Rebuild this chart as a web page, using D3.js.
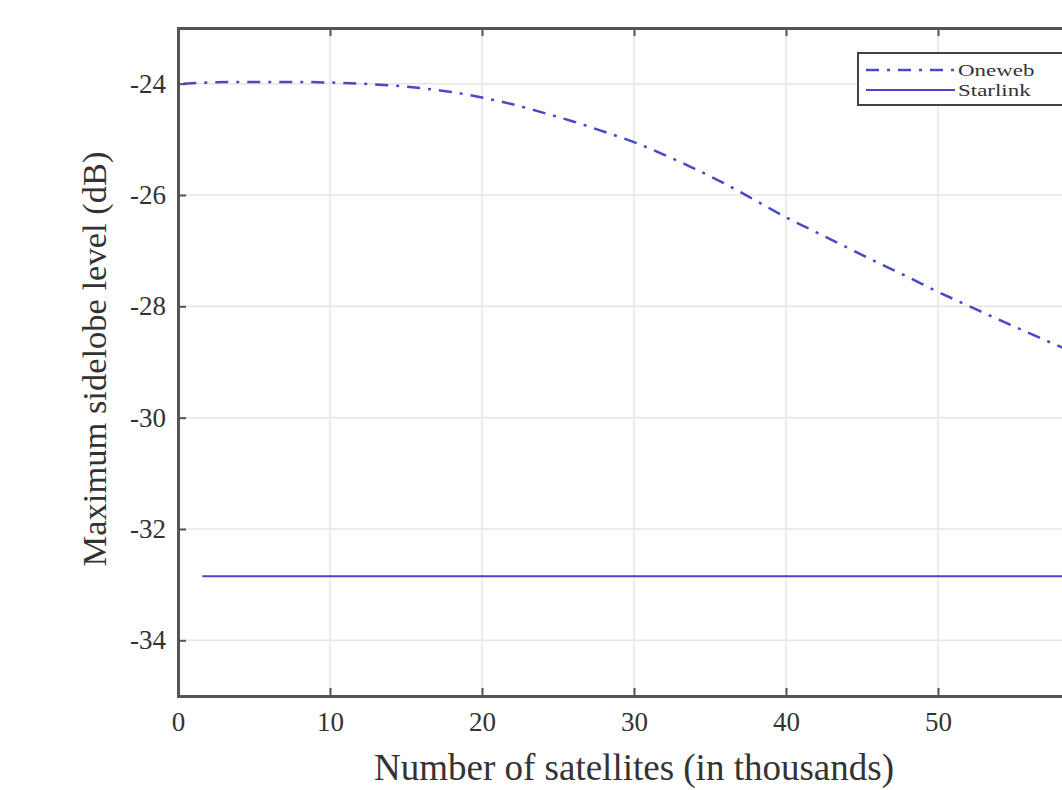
<!DOCTYPE html>
<html>
<head>
<meta charset="utf-8">
<script src="https://cdn.jsdelivr.net/npm/d3@7"></script>
<style>
  html, body { margin: 0; padding: 0; background: #fff; }
  svg { display: block; }
  text { font-family: "Liberation Serif", "Times New Roman", serif; fill: #333; }
</style>
</head>
<body>
<div id="chart"></div>
<script>
// ---- data ----
const xTicks = [0, 10, 20, 30, 40, 50, 60];
const xTickLabels = ["0", "10", "20", "30", "40", "50", ""];
const yTicks = [-34, -32, -30, -28, -26, -24];
const yTickLabels = ["-34", "-32", "-30", "-28", "-26", "-24"];
const onewebX = [0.35, 2, 4, 6, 8, 10, 12, 14, 16, 18, 20, 22, 24, 26, 28, 30, 32, 34, 36, 38, 40, 42, 44, 46, 48, 50, 52, 54, 56, 58, 60];
const onewebY = [-24.0, -23.98, -23.97, -23.97, -23.97, -23.98, -24.0, -24.03, -24.08, -24.15, -24.25, -24.37, -24.52, -24.68, -24.86, -25.05, -25.28, -25.53, -25.8, -26.1, -26.4, -26.67, -26.94, -27.21, -27.47, -27.74, -27.99, -28.24, -28.48, -28.72, -28.95];
const starlinkX = [1.6, 60];
const starlinkY = [-32.85, -32.85];
const seriesNames = ["Oneweb", "Starlink"];
const xTitle = "Number of satellites (in thousands)";
const yTitle = "Maximum sidelobe level (dB)";

// ---- layout ----
const W = 1062, H = 790;
const L = 178, R = 1090, T = 28, B = 696;
const lineColor = "#4848c8";

const svg = d3.select("#chart").append("svg").attr("width", W).attr("height", H);

const x = d3.scaleLinear().domain([0, 60]).range([L, R]);
const y = d3.scaleLinear().domain([-35, -23]).range([B, T]);

// grid
const g = svg.append("g");
g.selectAll(".vg").data(xTicks).join("line")
  .attr("x1", d => x(d)).attr("x2", d => x(d)).attr("y1", T).attr("y2", B)
  .attr("stroke", "#e6e6e6").attr("stroke-width", 1.5);
g.selectAll(".hg").data(yTicks).join("line")
  .attr("y1", d => y(d)).attr("y2", d => y(d)).attr("x1", L).attr("x2", R)
  .attr("stroke", "#e6e6e6").attr("stroke-width", 1.5);

// lines
const line = d3.line().x(d => x(d[0])).y(d => y(d[1])).curve(d3.curveMonotoneX);
const oneweb = onewebX.map((v, i) => [v, onewebY[i]]);
const starlink = starlinkX.map((v, i) => [v, starlinkY[i]]);

svg.append("path").datum(oneweb).attr("d", line)
  .attr("fill", "none").attr("stroke", lineColor).attr("stroke-width", 2.5)
  .attr("stroke-dasharray", "13,8,3,8");
svg.append("path").datum(starlink).attr("d", line)
  .attr("fill", "none").attr("stroke", lineColor).attr("stroke-width", 2);

// axes (box with inward ticks)
const axColor = "#555";
const xAxisB = d3.axisBottom(x).tickValues(xTicks).tickSize(-8).tickPadding(16)
  .tickFormat((d, i) => xTickLabels[i]);
const xAxisT = d3.axisTop(x).tickValues(xTicks).tickSize(-8).tickFormat("");
const yAxisL = d3.axisLeft(y).tickValues(yTicks).tickSize(-8).tickPadding(12)
  .tickFormat((d, i) => yTickLabels[i]);
const yAxisR = d3.axisRight(y).tickValues(yTicks).tickSize(-8).tickFormat("");

function style(sel) {
  sel.select(".domain").attr("stroke", axColor).attr("stroke-width", 3);
  sel.selectAll(".tick line").attr("stroke", axColor).attr("stroke-width", 2);
  sel.selectAll(".tick text").attr("fill", "#3a3a3a").style("font-family", "'Liberation Serif', serif").style("font-size", "27px");
}
svg.append("g").attr("transform", `translate(0,${B})`).call(xAxisB).call(style);
svg.append("g").attr("transform", `translate(0,${T})`).call(xAxisT).call(style);
svg.append("g").attr("transform", `translate(${L},0)`).call(yAxisL).call(style);
svg.append("g").attr("transform", `translate(${R},0)`).call(yAxisR).call(style);

// titles
svg.append("text").attr("x", (L + R) / 2).attr("y", 780).attr("text-anchor", "middle")
  .style("font-size", "37px").text(xTitle);
svg.append("text").attr("transform", `translate(106,${(T + B) / 2 - 3}) rotate(-90)`)
  .attr("text-anchor", "middle").style("font-size", "34.5px").text(yTitle);

// legend
const lg = svg.append("g");
lg.append("rect").attr("x", 858).attr("y", 53).attr("width", 224).attr("height", 52)
  .attr("fill", "#fff").attr("stroke", "#444").attr("stroke-width", 2);
const rowsY = [70, 90];
const legendDash = ["13,8,3,8", null];
seriesNames.forEach((name, i) => {
  lg.append("line").attr("x1", 866).attr("x2", 955).attr("y1", rowsY[i]).attr("y2", rowsY[i])
    .attr("stroke", lineColor).attr("stroke-width", i === 0 ? 2.5 : 2)
    .attr("stroke-dasharray", legendDash[i]);
  lg.append("text").attr("transform", `translate(958,${rowsY[i]}) scale(1.35,1)`)
    .attr("dy", "0.35em").style("font-size", "17px").text(name);
});
</script>
</body>
</html>
